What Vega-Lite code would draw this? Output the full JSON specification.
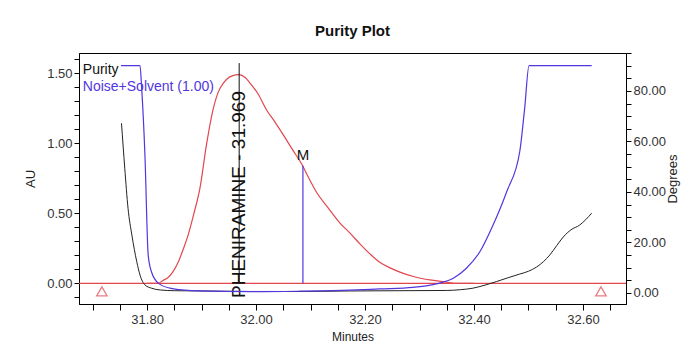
{
  "$schema": "https://vega.github.io/schema/vega-lite/v6.json",
  "width": 547,
  "height": 251,
  "autosize": {"type": "none"},
  "padding": {"left": 79, "top": 53, "right": 56, "bottom": 54},
  "background": "white",
  "config": {
    "view": {"stroke": "#000", "strokeWidth": 1},
    "font": "Liberation Sans",
    "axis": {
      "domainColor": "#000",
      "tickColor": "#000",
      "labelColor": "#333",
      "titleColor": "#222",
      "grid": false,
      "labelFont": "Liberation Sans",
      "labelFontSize": 13,
      "tickSize": 5,
      "tickCount": 60,
      "titleFontWeight": "normal",
      "labelFlush": false,
      "labelOverlap": false
    }
  },
  "title": {
    "text": "Purity Plot",
    "fontSize": 15,
    "font": "Liberation Sans",
    "fontWeight": "bold",
    "color": "#111",
    "offset": 8,
    "anchor": "middle"
  },
  "datasets": {
    "red": [
      {"t": 31.80, "au": 0.0},
      {"t": 31.820, "au": 0.0},
      {"t": 31.829, "au": 0.02},
      {"t": 31.838, "au": 0.04},
      {"t": 31.847, "au": 0.08},
      {"t": 31.857, "au": 0.15},
      {"t": 31.866, "au": 0.24},
      {"t": 31.875, "au": 0.34},
      {"t": 31.886, "au": 0.50},
      {"t": 31.897, "au": 0.68},
      {"t": 31.909, "au": 0.99},
      {"t": 31.921, "au": 1.24},
      {"t": 31.930, "au": 1.36},
      {"t": 31.940, "au": 1.43},
      {"t": 31.955, "au": 1.48},
      {"t": 31.969, "au": 1.49},
      {"t": 31.980, "au": 1.47},
      {"t": 31.989, "au": 1.43},
      {"t": 32.004, "au": 1.35},
      {"t": 32.019, "au": 1.24},
      {"t": 32.035, "au": 1.15},
      {"t": 32.050, "au": 1.06},
      {"t": 32.066, "au": 0.96},
      {"t": 32.084, "au": 0.85},
      {"t": 32.097, "au": 0.75},
      {"t": 32.111, "au": 0.65},
      {"t": 32.132, "au": 0.54},
      {"t": 32.154, "au": 0.43},
      {"t": 32.172, "au": 0.36},
      {"t": 32.191, "au": 0.28},
      {"t": 32.209, "au": 0.21},
      {"t": 32.227, "au": 0.15},
      {"t": 32.246, "au": 0.11},
      {"t": 32.264, "au": 0.08},
      {"t": 32.292, "au": 0.045},
      {"t": 32.319, "au": 0.024},
      {"t": 32.347, "au": 0.01},
      {"t": 32.365, "au": 0.0},
      {"t": 32.40, "au": 0.0}
    ],
    "baseline": [
      {"au": 0}
    ],
    "purity": [
      {"t": 31.753, "deg": 67.2},
      {"t": 31.759, "deg": 49.4},
      {"t": 31.765, "deg": 33.5},
      {"t": 31.772, "deg": 23.0},
      {"t": 31.781, "deg": 12.4},
      {"t": 31.787, "deg": 7.1},
      {"t": 31.796, "deg": 3.2},
      {"t": 31.808, "deg": 1.9},
      {"t": 31.824, "deg": 1.2},
      {"t": 31.850, "deg": 0.9},
      {"t": 31.897, "deg": 0.8},
      {"t": 31.989, "deg": 0.6},
      {"t": 32.080, "deg": 0.6},
      {"t": 32.172, "deg": 0.8},
      {"t": 32.264, "deg": 0.9},
      {"t": 32.350, "deg": 1.0},
      {"t": 32.375, "deg": 1.3},
      {"t": 32.398, "deg": 1.9},
      {"t": 32.420, "deg": 3.1},
      {"t": 32.441, "deg": 4.5},
      {"t": 32.462, "deg": 6.0},
      {"t": 32.484, "deg": 7.5},
      {"t": 32.500, "deg": 8.6},
      {"t": 32.515, "deg": 10.3},
      {"t": 32.528, "deg": 12.5},
      {"t": 32.539, "deg": 15.0},
      {"t": 32.552, "deg": 18.8},
      {"t": 32.564, "deg": 22.2},
      {"t": 32.578, "deg": 25.0},
      {"t": 32.594, "deg": 26.9},
      {"t": 32.605, "deg": 29.0},
      {"t": 32.616, "deg": 31.6}
    ],
    "noise": [
      {"t": 31.752, "deg": 90},
      {"t": 31.787, "deg": 90},
      {"t": 31.790, "deg": 81.2},
      {"t": 31.796, "deg": 54.7},
      {"t": 31.802, "deg": 15.0},
      {"t": 31.808, "deg": 8.4},
      {"t": 31.821, "deg": 3.8},
      {"t": 31.842, "deg": 1.9},
      {"t": 31.870, "deg": 1.1},
      {"t": 31.897, "deg": 0.8},
      {"t": 31.989, "deg": 0.5},
      {"t": 32.080, "deg": 0.7},
      {"t": 32.172, "deg": 1.1},
      {"t": 32.227, "deg": 1.6},
      {"t": 32.288, "deg": 2.2},
      {"t": 32.331, "deg": 3.6},
      {"t": 32.362, "deg": 5.8},
      {"t": 32.386, "deg": 9.8},
      {"t": 32.411, "deg": 16.4},
      {"t": 32.435, "deg": 26.9},
      {"t": 32.460, "deg": 40.1},
      {"t": 32.484, "deg": 56.0},
      {"t": 32.493, "deg": 73.1},
      {"t": 32.501, "deg": 90},
      {"t": 32.616, "deg": 90}
    ],
    "triangles": [
      {"t": 31.717, "au": -0.058},
      {"t": 32.633, "au": -0.058}
    ],
    "peak": [
      {"t": 31.969, "au0": 0, "au1": 1.573, "label": "PHENIRAMINE - 31.969", "labau": -0.105}
    ],
    "mline": [
      {"t": 32.086, "au0": 0, "au1": 0.84, "label": "M", "labau": 0.915}
    ],
    "legend": [
      {"t": 31.682, "au": 1.525, "label": "Purity", "series": "Purity"},
      {"t": 31.682, "au": 1.40, "label": "Noise+Solvent (1.00)", "series": "Noise"}
    ]
  },
  "layer": [
    {
      "layer": [
        {
          "data": {"name": "red"},
          "mark": {"type": "line", "color": "#E2464E", "strokeWidth": 1.2, "interpolate": "monotone"},
          "encoding": {
            "x": {
              "field": "t", "type": "quantitative", "title": "Minutes",
              "scale": {"domain": [31.675, 32.679], "nice": false, "zero": false},
              "axis": {
                "values": [31.7, 31.75, 31.8, 31.85, 31.9, 31.95, 32.0, 32.05, 32.1, 32.15, 32.2, 32.25, 32.3, 32.35, 32.4, 32.45, 32.5, 32.55, 32.6, 32.65],
                "tickCount": 60,
                "format": ".2f",
                "labelExpr": "abs(datum.value*5-round(datum.value*5))<0.001 ? datum.label : ''",
                "tickSize": 6,
                "labelPadding": 3,
                "title": "Minutes",
                "titleFontSize": 12,
                "titlePadding": 5
              }
            },
            "y": {
              "field": "au", "type": "quantitative", "title": "AU",
              "scale": {"domain": [-0.148, 1.645], "nice": false, "zero": false},
              "axis": {
                "values": [-0.1, 0, 0.1, 0.2, 0.3, 0.4, 0.5, 0.6, 0.7, 0.8, 0.9, 1, 1.1, 1.2, 1.3, 1.4, 1.5, 1.6],
                "tickCount": 60,
                "format": ".2f",
                "labelExpr": "abs(datum.value*2-round(datum.value*2))<0.001 ? datum.label : ''",
                "tickSize": 5,
                "labelPadding": 2,
                "title": "AU",
                "titleFontSize": 13,
                "titlePadding": 9
              }
            }
          }
        },
        {
          "data": {"name": "baseline"},
          "mark": {"type": "rule", "color": "#E2464E", "strokeWidth": 1.2},
          "encoding": {
            "y": {"field": "au", "type": "quantitative", "title": "AU", "scale": {"domain": [-0.148, 1.645], "nice": false, "zero": false}}
          }
        },
        {
          "data": {"name": "triangles"},
          "mark": {"type": "point", "shape": "triangle-up", "filled": false, "color": "#E2464E", "size": 110, "strokeWidth": 1.3},
          "encoding": {
            "x": {"field": "t", "type": "quantitative", "title": "Minutes", "scale": {"domain": [31.675, 32.679], "nice": false, "zero": false}},
            "y": {"field": "au", "type": "quantitative", "title": "AU", "scale": {"domain": [-0.148, 1.645], "nice": false, "zero": false}}
          }
        },
        {
          "data": {"name": "peak"},
          "mark": {"type": "rule", "color": "#111", "strokeWidth": 1},
          "encoding": {
            "x": {"field": "t", "type": "quantitative", "title": "Minutes", "scale": {"domain": [31.675, 32.679], "nice": false, "zero": false}},
            "y": {"field": "au0", "type": "quantitative", "title": "AU", "scale": {"domain": [-0.148, 1.645], "nice": false, "zero": false}},
            "y2": {"field": "au1"}
          }
        },
        {
          "data": {"name": "mline"},
          "mark": {"type": "rule", "color": "#5236E0", "strokeWidth": 1.2},
          "encoding": {
            "x": {"field": "t", "type": "quantitative", "title": "Minutes", "scale": {"domain": [31.675, 32.679], "nice": false, "zero": false}},
            "y": {"field": "au0", "type": "quantitative", "title": "AU", "scale": {"domain": [-0.148, 1.645], "nice": false, "zero": false}},
            "y2": {"field": "au1"}
          }
        },
        {
          "data": {"name": "peak"},
          "mark": {"type": "text", "angle": 270, "align": "left", "baseline": "middle", "font": "Liberation Sans", "fontSize": 19, "color": "#111"},
          "encoding": {
            "x": {"field": "t", "type": "quantitative", "title": "Minutes", "scale": {"domain": [31.675, 32.679], "nice": false, "zero": false}},
            "y": {"field": "labau", "type": "quantitative", "title": "AU", "scale": {"domain": [-0.148, 1.645], "nice": false, "zero": false}},
            "text": {"field": "label"}
          }
        },
        {
          "data": {"name": "mline"},
          "mark": {"type": "text", "align": "center", "baseline": "middle", "font": "Liberation Sans", "fontSize": 15, "color": "#111"},
          "encoding": {
            "x": {"field": "t", "type": "quantitative", "title": "Minutes", "scale": {"domain": [31.675, 32.679], "nice": false, "zero": false}},
            "y": {"field": "labau", "type": "quantitative", "title": "AU", "scale": {"domain": [-0.148, 1.645], "nice": false, "zero": false}},
            "text": {"field": "label"}
          }
        },
        {
          "data": {"name": "legend"},
          "mark": {"type": "text", "align": "left", "baseline": "middle", "font": "Liberation Sans", "fontSize": 14},
          "encoding": {
            "x": {"field": "t", "type": "quantitative", "title": "Minutes", "scale": {"domain": [31.675, 32.679], "nice": false, "zero": false}},
            "y": {"field": "au", "type": "quantitative", "title": "AU", "scale": {"domain": [-0.148, 1.645], "nice": false, "zero": false}},
            "text": {"field": "label"},
            "color": {"field": "series", "type": "nominal", "scale": {"domain": ["Purity", "Noise"], "range": ["#111111", "#5236E0"]}, "legend": null}
          }
        }
      ]
    },
    {
      "layer": [
        {
          "data": {"name": "purity"},
          "mark": {"type": "line", "color": "#222222", "strokeWidth": 1, "interpolate": "monotone"},
          "encoding": {
            "x": {"field": "t", "type": "quantitative", "title": "Minutes", "scale": {"domain": [31.675, 32.679], "nice": false, "zero": false}},
            "y": {
              "field": "deg", "type": "quantitative", "title": "Degrees",
              "scale": {"domain": [-4.36, 95], "nice": false, "zero": false},
              "axis": {
                "orient": "right",
                "values": [0, 5, 10, 15, 20, 25, 30, 35, 40, 45, 50, 55, 60, 65, 70, 75, 80, 85, 90, 95],
                "tickCount": 60,
                "format": ".2f",
                "labelExpr": "abs(datum.value/20-round(datum.value/20))<0.001 ? datum.label : ''",
                "tickSize": 5,
                "labelPadding": 2,
                "title": "Degrees",
                "titleAngle": 270,
                "titleBaseline": "top",
                "titleFontSize": 13,
                "titlePadding": 1
              }
            }
          }
        },
        {
          "data": {"name": "noise"},
          "mark": {"type": "line", "color": "#5236E0", "strokeWidth": 1.2, "interpolate": "monotone"},
          "encoding": {
            "x": {"field": "t", "type": "quantitative", "title": "Minutes", "scale": {"domain": [31.675, 32.679], "nice": false, "zero": false}},
            "y": {"field": "deg", "type": "quantitative", "title": "Degrees", "scale": {"domain": [-4.36, 95], "nice": false, "zero": false}}
          }
        }
      ]
    }
  ],
  "resolve": {"scale": {"y": "independent"}}
}
